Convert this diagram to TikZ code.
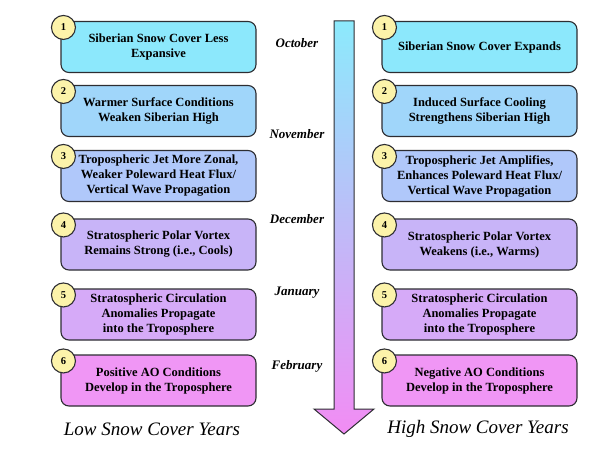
\documentclass[tikz,border=0pt]{standalone}
\usepackage{fontspec}
\setmainfont{Liberation Serif}
\usetikzlibrary{shadings}
\definecolor{cA}{RGB}{140,232,252}
\definecolor{cB}{RGB}{160,214,250}
\definecolor{cC}{RGB}{176,200,250}
\definecolor{cD}{RGB}{200,180,248}
\definecolor{cE}{RGB}{214,170,248}
\definecolor{cF}{RGB}{240,150,245}
\definecolor{circ}{RGB}{252,243,170}
\definecolor{edge}{RGB}{45,45,50}
\definecolor{arrtop}{RGB}{140,234,252}
\definecolor{arrbot}{RGB}{242,140,244}
\tikzset{
  x=1pt, y=-1pt,
  stepbox/.style={draw=edge, line width=1.1pt, rounded corners=8pt,
    minimum width=195pt, minimum height=51pt, align=center,
    font=\fontsize{12.5}{15}\selectfont\bfseries, inner sep=2pt},
  numcirc/.style={circle, draw=edge, line width=1.1pt, fill=circ,
    minimum size=24pt, inner sep=0pt, font=\fontsize{10.5}{12}\selectfont\bfseries},
  month/.style={font=\fontsize{13}{15}\selectfont\bfseries\itshape},
  title/.style={font=\fontsize{19}{22}\selectfont\itshape}
}
\begin{document}
\begin{tikzpicture}
\useasboundingbox (0,0) rectangle (597,452);
% timeline arrow
\shade[top color=arrtop, bottom color=arrbot]
  (334,21) -- (354,21) -- (354,409) -- (374,409) -- (344,434) -- (314,409) -- (334,409) -- cycle;
\draw[edge, line width=1pt, line join=miter]
  (334,21) -- (354,21) -- (354,409) -- (374,409) -- (344,434) -- (314,409) -- (334,409) -- cycle;
% left boxes
\node[stepbox, fill=cA] (L1) at (158.5,47) {Siberian Snow Cover Less\\Expansive};
\node[stepbox, fill=cB] (L2) at (158.5,111) {Warmer Surface Conditions\\Weaken Siberian High};
\node[stepbox, fill=cC] (L3) at (158.5,176) {Tropospheric Jet More Zonal,\\Weaker Poleward Heat Flux/\\Vertical Wave Propagation};
\node[stepbox, fill=cD] (L4) at (158.5,244.5) {Stratospheric Polar Vortex\\Remains Strong (i.e., Cools)};
\node[stepbox, fill=cE] (L5) at (158.5,314.5) {Stratospheric Circulation\\Anomalies Propagate\\into the Troposphere};
\node[stepbox, fill=cF] (L6) at (158.5,380.5) {Positive AO Conditions\\Develop in the Troposphere};
% right boxes
\node[stepbox, fill=cA] (R1) at (479.5,47) {Siberian Snow Cover Expands};
\node[stepbox, fill=cB] (R2) at (479.5,111) {Induced Surface Cooling\\Strengthens Siberian High};
\node[stepbox, fill=cC] (R3) at (479.5,176) {Tropospheric Jet Amplifies,\\Enhances Poleward Heat Flux/\\Vertical Wave Propagation};
\node[stepbox, fill=cD] (R4) at (479.5,244.5) {Stratospheric Polar Vortex\\Weakens (i.e., Warms)};
\node[stepbox, fill=cE] (R5) at (479.5,314.5) {Stratospheric Circulation\\Anomalies Propagate\\into the Troposphere};
\node[stepbox, fill=cF] (R6) at (479.5,380.5) {Negative AO Conditions\\Develop in the Troposphere};
% number circles
\foreach \n in {1,...,6}{
  \node[numcirc] (cl\n) at ([shift={(3,6.5)}]L\n.north west) {\n};
  \node[numcirc] (cr\n) at ([shift={(3,6.5)}]R\n.north west) {\n};
}
% months
\node[month] (m1) at (297,43) {October};
\node[month] (m2) at (297,134) {November};
\node[month] (m3) at (297,219) {December};
\node[month] (m4) at (297,293) {January};
\node[month] (m5) at (297,366) {February};
% titles
\node[title] (tl) at (152,429) {Low Snow Cover Years};
\node[title] (tr) at (478,429) {High Snow Cover Years};
\end{tikzpicture}
\end{document}
